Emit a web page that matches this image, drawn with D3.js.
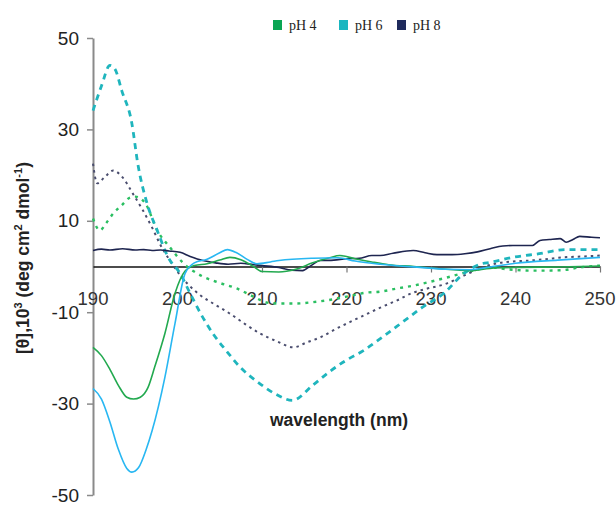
<!DOCTYPE html>
<html>
<head>
<meta charset="utf-8">
<script src="https://cdn.jsdelivr.net/npm/d3@7"></script>
<style>
  body { margin: 0; background: #fff; }
  svg text { font-family: "Liberation Sans", Arial, sans-serif; }
</style>
</head>
<body>
<div class="container"></div>
<script>
// data, wavelength (nm) vs [θ] x10^3
var xTicks = [190, 200, 210, 220, 230, 240, 250];
var yTicks = [50, 30, 10, -10, -30, -50];
var legendLabels = ["pH 4", "pH 6", "pH 8"];

// solid curves
var ph4Solid = [[190,-17.7],[191,-19.5],[192,-22.5],[193,-26],[194,-28.6],[194.8,-29],[195.6,-28.6],[196.5,-26.5],[197.3,-22],[198.5,-14.7],[199.7,-5.9],[200.9,-1],[202,0.2],[203.5,0.6],[205,1.4],[206.2,2.0],[207.5,1.5],[209,0],[210,-1.1],[212,-1.2],[214,-0.6],[216,0.8],[218,1.9],[219.2,2.4],[221,1.7],[223,1.0],[225,0.4],[228,0],[231,-0.5],[234.6,-0.9],[237,-0.4],[240,-0.2],[245,-0.1],[250,0.1]];
var ph6Solid = [[190,-26.7],[191,-29],[192,-34],[193,-40],[194,-44.2],[194.6,-45],[195.4,-44],[196.3,-40],[197,-35.9],[198.5,-24.3],[199.7,-12.5],[200.9,-1.5],[202,0.8],[203.5,1.6],[205,3.0],[205.9,3.7],[207,3.0],[208.3,1.5],[209.4,0.6],[211,1.0],[212,1.3],[216,1.8],[219,1.9],[221,1.2],[224,0.5],[228.7,-0.2],[232,-0.6],[234.6,-0.7],[237,-0.1],[240,0.7],[245,1.4],[250,2.0]];
var ph8Solid = [[190,3.5],[191,3.8],[192,3.6],[193.5,3.9],[195,3.6],[196,3.7],[197,3.5],[198,3.6],[199,3.4],[200.3,3.1],[201.5,2.2],[203,1.3],[204.5,0.8],[206,0.5],[207.5,0.7],[209,0.4],[210,0.2],[212,-0.2],[213.5,-0.8],[214.8,-0.9],[215.8,0.2],[216.9,1.3],[218.5,1.4],[220,1.7],[221.5,1.8],[223,2.4],[224,2.4],[225.5,2.9],[227.9,3.5],[229.3,3.0],[230.7,2.6],[232.5,2.6],[234,2.8],[235.5,3.2],[237,3.9],[238.5,4.5],[239.7,4.6],[241,4.6],[242,4.6],[242.9,5.7],[244,5.9],[245.3,6.1],[246,5.3],[246.8,5.9],[247.6,6.6],[249,6.4],[250,6.3]];

// dotted curves
var ph4Dot = [[190,10.5],[190.8,7.9],[191.6,9.6],[192.4,11.6],[193.4,13.4],[194.4,15.1],[195,15.3],[196.2,13.8],[197.6,7.9],[199.1,4.2],[200.6,0.9],[203,-2.2],[205,-3.6],[207,-4.8],[209,-6.6],[210.6,-7.9],[212,-8.1],[214,-8.1],[216,-7.8],[217.7,-7.4],[220,-6.6],[222.4,-5.7],[224,-5.5],[226,-4.8],[227.9,-4.2],[230,-3.3],[231.9,-2.4],[233.5,-1.6],[235,-0.9],[237,-0.2],[239,-0.6],[241.7,-0.9],[243.5,-0.9],[245.6,-0.8],[247.6,-0.2],[250,0.2]];
var ph6Dot = [[190,34.1],[191,39.5],[192,44],[192.6,43.2],[193.4,38.5],[194.6,31.3],[195.3,22.5],[196.4,13.8],[197.6,7.9],[198.9,2.0],[200.3,-1.5],[201.5,-5.9],[202.8,-10.5],[204.2,-14.7],[205.8,-18.5],[207.4,-22],[209.5,-25.3],[211.5,-27.8],[213.6,-29.3],[216,-26],[218,-23],[219.9,-20.6],[222,-18.4],[224,-15.8],[226.9,-11.8],[229,-8.9],[231.5,-5.9],[233.9,-1.5],[236,0.6],[237,0.9],[239.7,2.0],[242.8,2.8],[246,3.7],[248,3.7],[250,3.7]];
var ph8Dot = [[190,22.5],[190.5,18.2],[191.4,19.6],[192.4,21],[193.5,19.5],[194.7,16],[195.9,12.3],[197,8.5],[197.9,5],[199.1,1.3],[199.9,-0.9],[201.2,-3.8],[202.7,-6.3],[204.5,-8.4],[206.2,-10.3],[208,-12.6],[209.8,-14.7],[211.8,-16.4],[213.7,-17.7],[215.3,-16.6],[216.9,-15.5],[218.8,-13.6],[220.8,-11.8],[222.4,-10.4],[224,-9.0],[226,-7.4],[227.9,-5.7],[229.2,-5.0],[231.9,-3.7],[234,-1.9],[235.8,-0.4],[237.8,0.7],[239.7,1.1],[241.7,1.3],[243.6,1.6],[245.6,2.0],[248,2.2],[250,2.4]];

var series = [
  { values: ph4Dot, color: "#2bbf62", width: 2.4, dash: "3,5" },
  { values: ph8Dot, color: "#4a4d6e", width: 2, dash: "2.5,4" },
  { values: ph6Dot, color: "#1fb5bd", width: 2.8, dash: "6,5" },
  { values: ph8Solid, color: "#1e2550", width: 1.6, dash: null },
  { values: ph4Solid, color: "#22a94f", width: 1.6, dash: null },
  { values: ph6Solid, color: "#28b7f2", width: 1.6, dash: null }
];
var legendColors = ["#0aa553", "#1ab6c0", "#1f2a5c"];

var width = 616, height = 505;
const svg = d3.select(".container").append("svg")
  .attr("width", width)
  .attr("height", height);

var x = d3.scaleLinear().domain([190, 250]).range([93, 600]);
var y = d3.scaleLinear().domain([-50, 50]).range([495, 38]);

// y axis
var yAxis = svg.append("g")
  .attr("transform", "translate(93,0)")
  .call(d3.axisLeft(y).tickValues(yTicks).tickSize(6).tickSizeOuter(0).tickFormat(d => String(d)));
yAxis.select(".domain").attr("stroke", "#8a8a8a").attr("stroke-width", 2);
yAxis.selectAll(".tick line").attr("stroke", "#8a8a8a").attr("stroke-width", 1.5);
yAxis.selectAll(".tick text")
  .attr("x", -14)
  .attr("font-size", 19)
  .attr("fill", "#222")
  .style("font-family", "Liberation Sans, Arial, sans-serif");

// zero line with ticks down
var xAxis = svg.append("g")
  .attr("transform", "translate(0," + y(0) + ")")
  .call(d3.axisBottom(x).tickValues(xTicks.slice(1)).tickSize(6).tickSizeOuter(0).tickFormat(""));
xAxis.select(".domain").attr("stroke", "#111").attr("stroke-width", 1.6);
xAxis.selectAll(".tick line").attr("stroke", "#777").attr("stroke-width", 1.2);

// x tick labels sit just under the zero line
svg.append("g")
  .selectAll("text")
  .data(xTicks)
  .join("text")
  .attr("x", d => x(d))
  .attr("y", y(0) + 38)
  .attr("text-anchor", "middle")
  .attr("font-size", 18.5)
  .attr("fill", "#333")
  .text(d => d);

// curves
var line = d3.line()
  .x(d => x(d[0]))
  .y(d => y(d[1]))
  .curve(d3.curveMonotoneX);

svg.append("g")
  .selectAll("path")
  .data(series)
  .join("path")
  .attr("fill", "none")
  .attr("stroke", d => d.color)
  .attr("stroke-width", d => d.width)
  .attr("stroke-dasharray", d => d.dash)
  .attr("d", d => line(d.values));

// axis titles
svg.append("text")
  .attr("x", 339)
  .attr("y", 426)
  .attr("text-anchor", "middle")
  .attr("font-size", 17.5)
  .attr("font-weight", "bold")
  .attr("fill", "#222")
  .text("wavelength (nm)");

var yt = svg.append("text")
  .attr("transform", "translate(29,258) rotate(-90)")
  .attr("text-anchor", "middle")
  .attr("font-size", 17.5)
  .attr("font-weight", "bold")
  .attr("fill", "#222");
yt.append("tspan").text("[θ],10");
yt.append("tspan").attr("font-size", 11).attr("dy", -7).text("3");
yt.append("tspan").attr("dy", 7).text(" (deg cm");
yt.append("tspan").attr("font-size", 11).attr("dy", -7).text("2");
yt.append("tspan").attr("dy", 7).text(" dmol");
yt.append("tspan").attr("font-size", 11).attr("dy", -7).text("-1");
yt.append("tspan").attr("dy", 7).text(")");

// legend
var legendX = [273, 339, 397];
var leg = svg.append("g")
  .selectAll("g")
  .data(legendLabels)
  .join("g")
  .attr("transform", (d, i) => "translate(" + legendX[i] + ",20)");
leg.append("rect")
  .attr("width", 9)
  .attr("height", 10)
  .attr("fill", (d, i) => legendColors[i]);
leg.append("text")
  .attr("x", 16)
  .attr("y", 10)
  .attr("font-size", 14)
  .attr("fill", "#222")
  .style("font-family", "Liberation Serif, Times New Roman, serif")
  .text(d => d);
</script>
</body>
</html>
